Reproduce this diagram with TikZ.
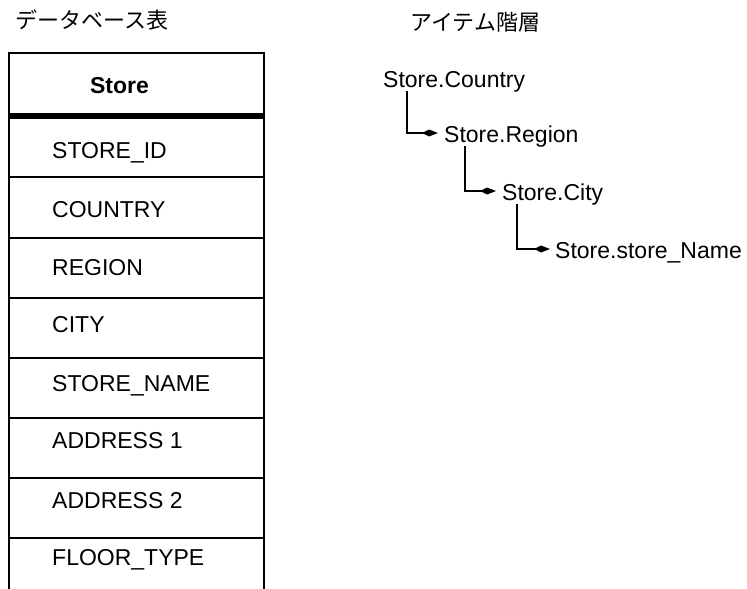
\documentclass[tikz,border=0pt]{standalone}
\usepackage{fontspec}
\setmainfont{Liberation Sans}
\newfontfamily\jpfont{Noto Sans CJK JP}
\usetikzlibrary{arrows.meta}
\tikzset{
  lbl/.style={inner sep=0pt, anchor=base west, font=\fontsize{23}{26}\selectfont},
  head/.style={inner sep=0pt, anchor=base, font=\fontsize{23}{26}\selectfont\bfseries},
  ttl/.style={inner sep=0pt, anchor=base west, font=\jpfont\fontsize{22}{26}\selectfont},
  tline/.style={line width=1.8pt},
  hier/.style={line width=1.6pt, -{Kite[length=16pt,width=7pt,inset'=7pt]}},
}
\begin{document}
\begin{tikzpicture}[x=1pt,y=-1pt]
\useasboundingbox (0,0) rectangle (747,589);
\fill[white] (0,0) rectangle (747,589);
% titles
\node[ttl] (t1) at (15,28.5) {データベース表};
\node[ttl] (t2) at (410,30.5) {アイテム階層};
% table
\draw[tline] (9,589) -- (9,53) -- (264,53) -- (264,589);
\draw[line width=6pt] (9,116) -- (264,116);
\foreach \yy in {177,238,298,358,418,478,538}
  \draw[tline] (9,\yy) -- (264,\yy);
\node[head] (hstore) at (119.5,93) {Store};
\node[lbl] (r1) at (52,158) {STORE\_ID};
\node[lbl] (r2) at (52,217) {COUNTRY};
\node[lbl] (r3) at (52,275) {REGION};
\node[lbl] (r4) at (52,332) {CITY};
\node[lbl] (r5) at (52,391) {STORE\_NAME};
\node[lbl] (r6) at (52,448) {ADDRESS 1};
\node[lbl] (r7) at (52,508) {ADDRESS 2};
\node[lbl] (r8) at (52,565) {FLOOR\_TYPE};
% hierarchy
\node[lbl] (country) at (383,87) {Store.Country};
\node[lbl] (region) at (444,142) {Store.Region};
\node[lbl] (city) at (502,200) {Store.City};
\node[lbl] (sname) at (555,258) {Store.store\_Name};
\draw[hier] ([xshift=24pt,yshift=-4pt]country.base west) |- ([xshift=-6pt,yshift=9pt]region.base west);
\draw[hier] ([xshift=21pt,yshift=-4pt]region.base west) |- ([xshift=-6pt,yshift=9pt]city.base west);
\draw[hier] ([xshift=15pt,yshift=-4pt]city.base west) |- ([xshift=-5pt,yshift=9pt]sname.base west);
\end{tikzpicture}
\end{document}
